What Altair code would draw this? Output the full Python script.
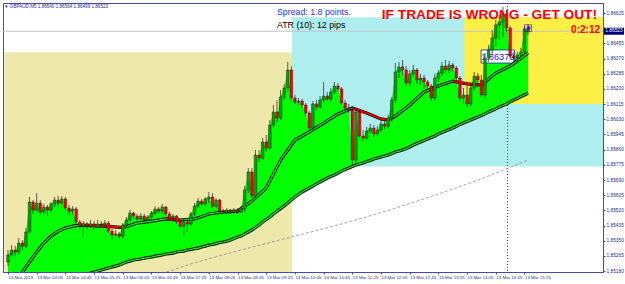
import altair as alt
import pandas as pd

# ---------------- data ----------------
time_labels = ["13 Mar 2019", "13 Mar 04:05", "13 Mar 04:45", "13 Mar 05:25", "13 Mar 06:05",
               "13 Mar 06:45", "13 Mar 07:25", "13 Mar 08:05", "13 Mar 08:45", "13 Mar 09:25",
               "13 Mar 10:05", "13 Mar 10:45", "13 Mar 11:25", "13 Mar 12:05", "13 Mar 12:45",
               "13 Mar 13:25", "13 Mar 14:05", "13 Mar 14:45", "13 Mar 15:25"]
label_step = 8
price_ticks = [1.86625, 1.86540, 1.86455, 1.86370, 1.86285, 1.86200, 1.86115, 1.86030, 1.85945,
               1.85860, 1.85775, 1.85690, 1.85605, 1.85520, 1.85435, 1.85350, 1.85265, 1.85180]

open_ = [1.85231, 1.85270, 1.85298, 1.85287, 1.85337, 1.85320, 1.85399, 1.85567, 1.85522, 1.85561,
         1.85511, 1.85539, 1.85522, 1.85556, 1.85578, 1.85561, 1.85584, 1.85533, 1.85516, 1.85528,
         1.85455, 1.85432, 1.85444, 1.85432, 1.85444, 1.85427, 1.85444, 1.85438, 1.85449, 1.85404,
         1.85382, 1.85388, 1.85376, 1.85438, 1.85466, 1.85505, 1.85488, 1.85472, 1.85488, 1.85466,
         1.85483, 1.85505, 1.85528, 1.85516, 1.85539, 1.85500, 1.85477, 1.85488, 1.85455, 1.85432,
         1.85455, 1.85444, 1.85500, 1.85544, 1.85572, 1.85556, 1.85584, 1.85595, 1.85544, 1.85578,
         1.85516, 1.85511, 1.85522, 1.85511, 1.85522, 1.85511, 1.85528, 1.85634, 1.85735, 1.85600,
         1.85830, 1.85813, 1.85903, 1.85869, 1.85998, 1.86071, 1.86037, 1.86155, 1.86205, 1.86306,
         1.86149, 1.86127, 1.86132, 1.86110, 1.86065, 1.85981, 1.86116, 1.86099, 1.86138, 1.86160,
         1.86144, 1.86183, 1.86216, 1.86200, 1.86121, 1.86093, 1.86082, 1.85802, 1.86071, 1.85936,
         1.85925, 1.85964, 1.85981, 1.85948, 1.85970, 1.86004, 1.85992, 1.86037, 1.86138, 1.86295,
         1.86323, 1.86306, 1.86233, 1.86284, 1.86306, 1.86250, 1.86261, 1.86239, 1.86216, 1.86149,
         1.86261, 1.86289, 1.86328, 1.86306, 1.86334, 1.86317, 1.86261, 1.86149, 1.86166, 1.86116,
         1.86205, 1.86272, 1.86250, 1.86166, 1.86373, 1.86418, 1.86485, 1.86558, 1.86575, 1.86620,
         1.86541, 1.86384, 1.86373, 1.86390, 1.86407, 1.86540]
close = [1.85270, 1.85298, 1.85287, 1.85337, 1.85320, 1.85399, 1.85567, 1.85522, 1.85561, 1.85511,
         1.85539, 1.85522, 1.85556, 1.85578, 1.85561, 1.85584, 1.85533, 1.85516, 1.85528, 1.85455,
         1.85432, 1.85444, 1.85432, 1.85444, 1.85427, 1.85444, 1.85438, 1.85449, 1.85404, 1.85382,
         1.85388, 1.85376, 1.85438, 1.85466, 1.85505, 1.85488, 1.85472, 1.85488, 1.85466, 1.85483,
         1.85505, 1.85528, 1.85516, 1.85539, 1.85500, 1.85477, 1.85488, 1.85455, 1.85432, 1.85455,
         1.85444, 1.85500, 1.85544, 1.85572, 1.85556, 1.85584, 1.85595, 1.85544, 1.85578, 1.85516,
         1.85511, 1.85522, 1.85511, 1.85522, 1.85511, 1.85528, 1.85634, 1.85735, 1.85600, 1.85830,
         1.85813, 1.85903, 1.85869, 1.85998, 1.86071, 1.86037, 1.86155, 1.86205, 1.86306, 1.86149,
         1.86127, 1.86132, 1.86110, 1.86065, 1.85981, 1.86116, 1.86099, 1.86138, 1.86160, 1.86144,
         1.86183, 1.86216, 1.86200, 1.86121, 1.86093, 1.86082, 1.85802, 1.86071, 1.85936, 1.85925,
         1.85964, 1.85981, 1.85948, 1.85970, 1.86004, 1.85992, 1.86037, 1.86138, 1.86295, 1.86323,
         1.86306, 1.86233, 1.86284, 1.86306, 1.86250, 1.86261, 1.86239, 1.86216, 1.86149, 1.86261,
         1.86289, 1.86328, 1.86306, 1.86334, 1.86317, 1.86261, 1.86149, 1.86166, 1.86116, 1.86205,
         1.86272, 1.86250, 1.86166, 1.86373, 1.86418, 1.86485, 1.86558, 1.86575, 1.86620, 1.86541,
         1.86384, 1.86373, 1.86390, 1.86407, 1.86536, 1.86523]
high = [1.85298, 1.85326, 1.85320, 1.85365, 1.85354, 1.85421, 1.85595, 1.85578, 1.85617, 1.85578,
        1.85556, 1.85550, 1.85567, 1.85595, 1.85600, 1.85600, 1.85595, 1.85550, 1.85544, 1.85539,
        1.85466, 1.85460, 1.85455, 1.85466, 1.85460, 1.85466, 1.85460, 1.85466, 1.85460, 1.85416,
        1.85410, 1.85399, 1.85449, 1.85483, 1.85522, 1.85511, 1.85500, 1.85505, 1.85500, 1.85494,
        1.85516, 1.85544, 1.85539, 1.85556, 1.85544, 1.85511, 1.85500, 1.85494, 1.85466, 1.85472,
        1.85466, 1.85511, 1.85561, 1.85589, 1.85584, 1.85595, 1.85623, 1.85617, 1.85589, 1.85584,
        1.85528, 1.85533, 1.85528, 1.85533, 1.85533, 1.85539, 1.85656, 1.85757, 1.85757, 1.85858,
        1.85858, 1.85925, 1.85942, 1.86026, 1.86110, 1.86138, 1.86194, 1.86228, 1.86351, 1.86328,
        1.86166, 1.86149, 1.86144, 1.86121, 1.86076, 1.86132, 1.86138, 1.86160, 1.86239, 1.86183,
        1.86205, 1.86239, 1.86233, 1.86211, 1.86138, 1.86116, 1.86099, 1.86093, 1.86082, 1.85970,
        1.85987, 1.86004, 1.85998, 1.85992, 1.86026, 1.86020, 1.86054, 1.86155, 1.86345, 1.86351,
        1.86362, 1.86328, 1.86306, 1.86334, 1.86317, 1.86284, 1.86278, 1.86250, 1.86228, 1.86284,
        1.86306, 1.86351, 1.86362, 1.86356, 1.86345, 1.86328, 1.86272, 1.86205, 1.86216, 1.86228,
        1.86295, 1.86289, 1.86278, 1.86401, 1.86446, 1.86530, 1.86586, 1.86614, 1.86659, 1.86642,
        1.86552, 1.86407, 1.86407, 1.86429, 1.86552, 1.86564]
low = [1.85208, 1.85253, 1.85264, 1.85276, 1.85298, 1.85309, 1.85388, 1.85500, 1.85511, 1.85500,
       1.85494, 1.85488, 1.85511, 1.85539, 1.85544, 1.85550, 1.85522, 1.85494, 1.85500, 1.85444,
       1.85416, 1.85365, 1.85416, 1.85421, 1.85410, 1.85416, 1.85421, 1.85427, 1.85393, 1.85354,
       1.85371, 1.85360, 1.85365, 1.85427, 1.85455, 1.85472, 1.85460, 1.85466, 1.85455, 1.85460,
       1.85472, 1.85494, 1.85505, 1.85505, 1.85488, 1.85466, 1.85460, 1.85444, 1.85421, 1.85382,
       1.85399, 1.85432, 1.85488, 1.85533, 1.85539, 1.85544, 1.85561, 1.85533, 1.85533, 1.85505,
       1.85500, 1.85500, 1.85500, 1.85505, 1.85500, 1.85505, 1.85511, 1.85617, 1.85589, 1.85589,
       1.85791, 1.85802, 1.85847, 1.85858, 1.85981, 1.86015, 1.86026, 1.86138, 1.86183, 1.86132,
       1.86116, 1.86110, 1.86093, 1.86048, 1.85964, 1.85970, 1.86082, 1.86088, 1.86121, 1.86132,
       1.86132, 1.86172, 1.86183, 1.86110, 1.86076, 1.86065, 1.85774, 1.85785, 1.85925, 1.85908,
       1.85914, 1.85953, 1.85931, 1.85936, 1.85959, 1.85976, 1.85981, 1.86015, 1.86121, 1.86261,
       1.86278, 1.86216, 1.86216, 1.86267, 1.86228, 1.86222, 1.86200, 1.86194, 1.86132, 1.86138,
       1.86239, 1.86272, 1.86284, 1.86289, 1.86295, 1.86250, 1.86132, 1.86116, 1.86099, 1.86104,
       1.86194, 1.86228, 1.86155, 1.86149, 1.86351, 1.86390, 1.86435, 1.86474, 1.86491, 1.86513,
       1.86368, 1.86351, 1.86345, 1.86379, 1.86390, 1.86499]
slow_ma = [1.85029, 1.85035, 1.85040, 1.85049, 1.85054, 1.85063, 1.85068, 1.85074, 1.85080, 1.85085,
           1.85091, 1.85096, 1.85102, 1.85108, 1.85113, 1.85119, 1.85124, 1.85130, 1.85136, 1.85141,
           1.85147, 1.85152, 1.85161, 1.85169, 1.85175, 1.85180, 1.85186, 1.85192, 1.85197, 1.85203,
           1.85208, 1.85214, 1.85222, 1.85231, 1.85236, 1.85242, 1.85245, 1.85248, 1.85253, 1.85256,
           1.85259, 1.85264, 1.85267, 1.85270, 1.85276, 1.85278, 1.85281, 1.85287, 1.85290, 1.85292,
           1.85298, 1.85301, 1.85306, 1.85309, 1.85315, 1.85320, 1.85326, 1.85329, 1.85334, 1.85340,
           1.85343, 1.85348, 1.85354, 1.85362, 1.85371, 1.85376, 1.85388, 1.85399, 1.85410, 1.85424,
           1.85438, 1.85455, 1.85469, 1.85483, 1.85500, 1.85516, 1.85530, 1.85544, 1.85561, 1.85578,
           1.85595, 1.85609, 1.85623, 1.85634, 1.85645, 1.85656, 1.85668, 1.85679, 1.85690, 1.85701,
           1.85710, 1.85718, 1.85729, 1.85740, 1.85749, 1.85757, 1.85766, 1.85774, 1.85780, 1.85785,
           1.85794, 1.85799, 1.85808, 1.85813, 1.85819, 1.85824, 1.85830, 1.85838, 1.85847, 1.85852,
           1.85858, 1.85866, 1.85875, 1.85886, 1.85894, 1.85903, 1.85911, 1.85920, 1.85928, 1.85936,
           1.85948, 1.85956, 1.85964, 1.85973, 1.85981, 1.85990, 1.86001, 1.86009, 1.86018, 1.86026,
           1.86034, 1.86043, 1.86051, 1.86060, 1.86071, 1.86079, 1.86088, 1.86099, 1.86107, 1.86116,
           1.86127, 1.86138, 1.86146, 1.86158, 1.86166, 1.86177]
bars = list(range(len(close)))

mid_bars = [0, 2, 4, 6, 8, 10, 12, 14, 16, 18, 20, 24, 28, 32, 36, 40, 44, 48, 52, 56, 60, 64, 68,
            72, 76, 78, 80, 84, 88, 92, 96, 100, 104, 106, 108, 112, 116, 120, 124, 128, 132, 136,
            140, 145]
mid_ma = [1.85040, 1.85108, 1.85175, 1.85231, 1.85287, 1.85337, 1.85376, 1.85404, 1.85421, 1.85432,
          1.85438, 1.85435, 1.85430, 1.85424, 1.85449, 1.85460, 1.85472, 1.85466, 1.85472, 1.85500,
          1.85511, 1.85516, 1.85572, 1.85645, 1.85802, 1.85858, 1.85914, 1.85959, 1.86009, 1.86060,
          1.86093, 1.86065, 1.86032, 1.86026, 1.86048, 1.86110, 1.86183, 1.86216, 1.86244, 1.86228,
          1.86222, 1.86289, 1.86328, 1.86401]

dash_bars = [40, 44, 51, 65, 79, 95, 109, 120, 131, 145]
dash_ma = [1.85159, 1.85175, 1.85220, 1.85298, 1.85371, 1.85455, 1.85539, 1.85612, 1.85690, 1.85802]

zone_x0 = [-1, 79.2, 127.2]
zone_x1 = [79.2, 170, 170]
zone_p0 = [1.85100, 1.85765, 1.86115]
zone_p1 = [1.86405, 1.86601, 1.86601]
zone_fill = ["#EEE8AA", "#AFEEEE", "#FCEF45"]

bid_price = 1.86523
marker_bar = 139.3
level_price = 1.86379
level_box_bars = [131.9, 141.2]
level_box_prices = [1.86345, 1.86418]
header = "\u25bc GBPAUD,M5  1.86540 1.86564 1.86499 1.86523"

# ---------------- chart ----------------
AX = "#4646B4"
LAB = "#2A2A8A"
FONT = "Liberation Sans"

xs = alt.Scale(domain=[0, 164.5], nice=False, zero=False)
ys = alt.Scale(domain=[1.85175, 1.86681], nice=False, zero=False)
expr = "[" + ",".join("'%s'" % t for t in time_labels) + "][round(datum.value/%d)]" % label_step
xax = alt.Axis(values=list(range(0, label_step * len(time_labels), label_step)), labelExpr=expr,
               labelAlign="left", labelBaseline="top", labelFontSize=4.4, labelFont=FONT,
               labelColor=LAB, tickSize=2, tickColor=AX, domainColor=AX, labelPadding=1,
               grid=False, title=None, labelOverlap=False, labelFlush=False)
# the axis label under the current-price box is hidden by that box in the reference
yexpr = "abs(datum.value - %.5f) < 0.0002 ? '' : format(datum.value, '.5f')" % bid_price
yax = alt.Axis(orient="right", values=price_ticks, labelExpr=yexpr, labelFontSize=4.8, labelFont=FONT,
               labelColor=LAB, tickSize=2, tickColor=AX, domainColor=AX, labelPadding=1,
               grid=False, title=None, labelOverlap=False, labelFlush=False)


def X(f):
    return alt.X(f, type="quantitative", scale=xs, axis=xax)


def Y(f):
    return alt.Y(f, type="quantitative", scale=ys, axis=yax)


df = pd.DataFrame({"bar": bars, "open": open_, "high": high, "low": low, "close": close, "slow": slow_ma})
mid = pd.DataFrame({"bar": mid_bars, "ma": mid_ma})
dsh = pd.DataFrame({"bar": dash_bars, "ma": dash_ma})
zones = pd.DataFrame({"x0": zone_x0, "x1": zone_x1, "p0": zone_p0, "p1": zone_p1, "fill": zone_fill})

bg = alt.Chart(zones).mark_rect(clip=True).encode(
    x=X("x0"), x2="x1", y=Y("p0"), y2="p1", color=alt.Color("fill:N", scale=None))
bid = alt.Chart(pd.DataFrame({"p": [bid_price]})).mark_rule(color="#C4C4C4", strokeWidth=1).encode(y=Y("p"))
vline = alt.Chart(pd.DataFrame({"b": [marker_bar]})).mark_rule(
    color="#2B2BE0", strokeDash=[1, 2], strokeWidth=1).encode(x=X("b"))
dash = alt.Chart(dsh).mark_line(color="#9A9A9A", strokeDash=[3, 2], strokeWidth=0.9, clip=True,
                                interpolate="monotone").encode(x=X("bar"), y=Y("ma"))
green = alt.Chart(df).mark_area(color="#00FF00", clip=True).encode(x=X("bar"), y=Y("close"), y2="slow")

box_df = pd.DataFrame({"b0": [level_box_bars[0]], "b1": [level_box_bars[1]],
                       "p0": [level_box_prices[0]], "p1": [level_box_prices[1]],
                       "bc": [sum(level_box_bars) / 2], "p": [level_price],
                       "t": ["%.5f" % level_price]})
box = alt.Chart(box_df).mark_rect(fill="white", stroke="#2020D0", strokeWidth=0.8).encode(
    x=X("b0"), x2="b1", y=Y("p0"), y2="p1")
box_t = alt.Chart(box_df).mark_text(fontSize=9.2, font=FONT, color="#1818C8").encode(
    x=X("bc"), y=Y("p"), text="t:N")

slow_k = alt.Chart(df).mark_line(color="black", strokeWidth=3.2, clip=True).encode(x=X("bar"), y=Y("slow"))
slow_g = alt.Chart(df).mark_line(color="#00FF00", strokeWidth=1.2, clip=True).encode(x=X("bar"), y=Y("slow"))
mid_k = alt.Chart(mid).mark_line(color="black", strokeWidth=3.2, clip=True).encode(x=X("bar"), y=Y("ma"))
mid_g = alt.Chart(mid).mark_line(color="#00FF00", strokeWidth=1.2, clip=True).encode(x=X("bar"), y=Y("ma"))
mid_r = alt.Chart(mid).transform_window(
    window=[{"op": "lag", "field": "ma", "as": "pma"}, {"op": "lag", "field": "bar", "as": "pbar"}],
    sort=[{"field": "bar"}]
).transform_filter("datum.pma != null && datum.ma < datum.pma").mark_rule(
    color="#E00000", strokeWidth=2).encode(x=X("pbar"), x2="bar", y=Y("pma"), y2="ma")

wick = alt.Chart(df).mark_rule(color="#202020", strokeWidth=0.7).encode(x=X("bar"), y=Y("low"), y2="high")
body = alt.Chart(df).mark_bar(size=2.6, stroke="#101010", strokeWidth=0.4).encode(
    x=X("bar"), y=Y("open"), y2="close",
    color=alt.when(alt.datum.close >= alt.datum.open).then(alt.value("#00A800")).otherwise(alt.value("#FF0000")))

star_df = pd.DataFrame({"b": [bars[-1]], "p": [open_[-1]]})
star_box = alt.Chart(star_df).mark_point(shape="square", size=48, filled=False, color="#1E1EDC",
                                          strokeWidth=0.9).encode(x=X("b"), y=Y("p"))
star_t = alt.Chart(star_df).mark_text(text="\u2731", fontSize=6, color="#1E1EDC").encode(x=X("b"), y=Y("p"))


def label(txt, x, y, size, color, align="left", weight="normal"):
    return alt.Chart(pd.DataFrame({"t": [txt]})).mark_text(
        align=align, baseline="middle", fontSize=size, font=FONT, color=color, fontWeight=weight
    ).encode(x=alt.value(x), y=alt.value(y), text="t:N")


t_head = label(header, 1, 4, 4.6, LAB)
t_spread = label("Spread: 1.8 points.", 274, 9, 8.8, "#2233EE")
t_atr = label("ATR (10): 12 pips", 274, 22, 8.8, "black")
t_warn = label("IF TRADE IS WRONG - GET OUT!", 594, 11.5, 13.7, "#FF0000", "right", "bold")
t_timer = label("0:2:12", 597, 26.5, 10, "#FF0000", "right", "bold")

cur_df = pd.DataFrame({"p": [bid_price], "t": ["%.5f" % bid_price]})
cur_box = alt.Chart(cur_df).mark_tick(color="#00007A", thickness=7, size=20, orient="horizontal",
                                      opacity=1).encode(y=Y("p"), x=alt.value(611))
cur_t = alt.Chart(cur_df).mark_text(fontSize=4.8, font=FONT, color="white").encode(
    y=Y("p"), x=alt.value(611), text="t:N")

chart = alt.layer(
    bg, bid, vline, dash, green, box, box_t, slow_k, slow_g, mid_k, mid_g, mid_r,
    wick, body, star_box, star_t, t_head, t_spread, t_atr, t_warn, t_timer, cur_box, cur_t
).properties(
    width=600, height=269,
    padding={"left": 3, "top": 3, "right": 22, "bottom": 12},
    autosize=alt.AutoSizeParams(type="none"),
    background="white",
).configure_view(stroke=AX, strokeWidth=1)

chart.save("out.html", embed_options={"renderer": "svg", "actions": False})
